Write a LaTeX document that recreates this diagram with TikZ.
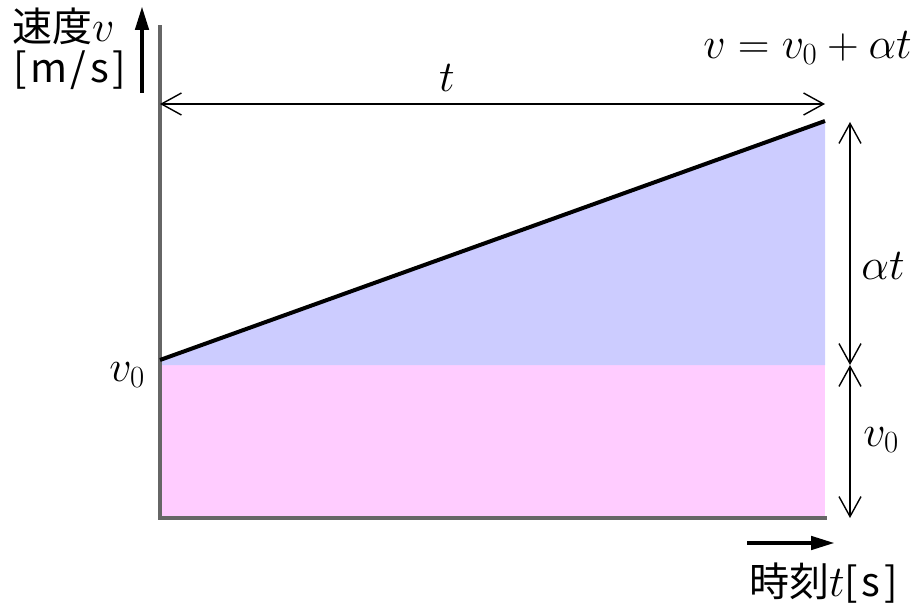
\RequirePackage{fix-cm}
\documentclass[tikz,border=0pt]{standalone}
\usepackage{fontspec}
\newfontfamily\jp{Noto Sans CJK JP}
\newfontfamily\jpw[LetterSpace=9]{Noto Sans CJK JP}
\usetikzlibrary{arrows.meta}
\newcommand\mfs{\fontsize{44}{50}\selectfont}
\newcommand\jfs{\jp\fontsize{40}{46}\selectfont}
\newcommand\jws{\jpw\fontsize{40}{46}\selectfont}
\begin{document}
\begin{tikzpicture}[x=1pt,y=-1pt,
  lbl/.style={inner sep=0pt,font=\mfs},
  jlbl/.style={inner sep=0pt,font=\jfs},
  axisline/.style={line width=4pt,draw=black!60},
  dimarrow/.style={line width=1.4pt,{Straight Barb[length=20pt,width=22pt,line width=1.4pt]}-{Straight Barb[length=20pt,width=22pt,line width=1.4pt]}},
  unitarrow/.style={line width=4.5pt,-{Triangle[length=24pt,width=13pt]}}
  ]
\useasboundingbox (0,0) rectangle (921,612);
% key points
\coordinate (O) at (160,518);
\coordinate (Ytop) at (160,27);
\coordinate (Xend) at (825,518);
\coordinate (A) at (160,360);
\coordinate (B) at (825,121);
\coordinate (C) at (825,365);
\coordinate (D) at (160,365);
% areas
\fill[fill={rgb,255:red,255;green,204;blue,255}] (D) rectangle (Xend);
\fill[fill={rgb,255:red,204;green,204;blue,255}] (A) -- (B) -- (C) -- (D) -- cycle;
% axes
\draw[axisline,line cap=rect] (Ytop) -- (O) -- (Xend);
% velocity line
\draw[line width=4pt] (A) -- (B);
% dimension arrows
\coordinate (T1) at (160,104);
\coordinate (T2) at (825,104);
\draw[dimarrow] (T1) -- (T2);
\node[lbl] (tl) at (447,78) {$t$};
\coordinate (R1) at (850,122);
\coordinate (R2) at (850,365);
\coordinate (R3) at (850,518);
\draw[dimarrow] (R1) -- (R2);
\draw[dimarrow] (R2) -- (R3);
\node[lbl] (atl) at (883,266) {$\alpha t$};
\node[lbl] (v0r) at (881,440) {$v_0$};
\node[lbl] (v0l) at (127,375) {$v_0$};
\node[lbl,anchor=east] (eq) at (912,48) {$v=v_0+\alpha t$};
% unit arrows
\coordinate (U1) at (142,93);
\coordinate (U2) at (142,6);
\draw[unitarrow] (U1) -- (U2);
\node[jlbl,anchor=west] (vel) at (12,26) {速度\mfs$v$};
\node[jlbl,anchor=west] (vun) at (13,70) {\jws[m/s]};
\coordinate (S1) at (747,543);
\coordinate (S2) at (835,543);
\draw[unitarrow] (S1) -- (S2);
\node[jlbl,anchor=west] (tim) at (749,583) {時刻\mfs$t$\jws[s]};
\end{tikzpicture}
\end{document}
